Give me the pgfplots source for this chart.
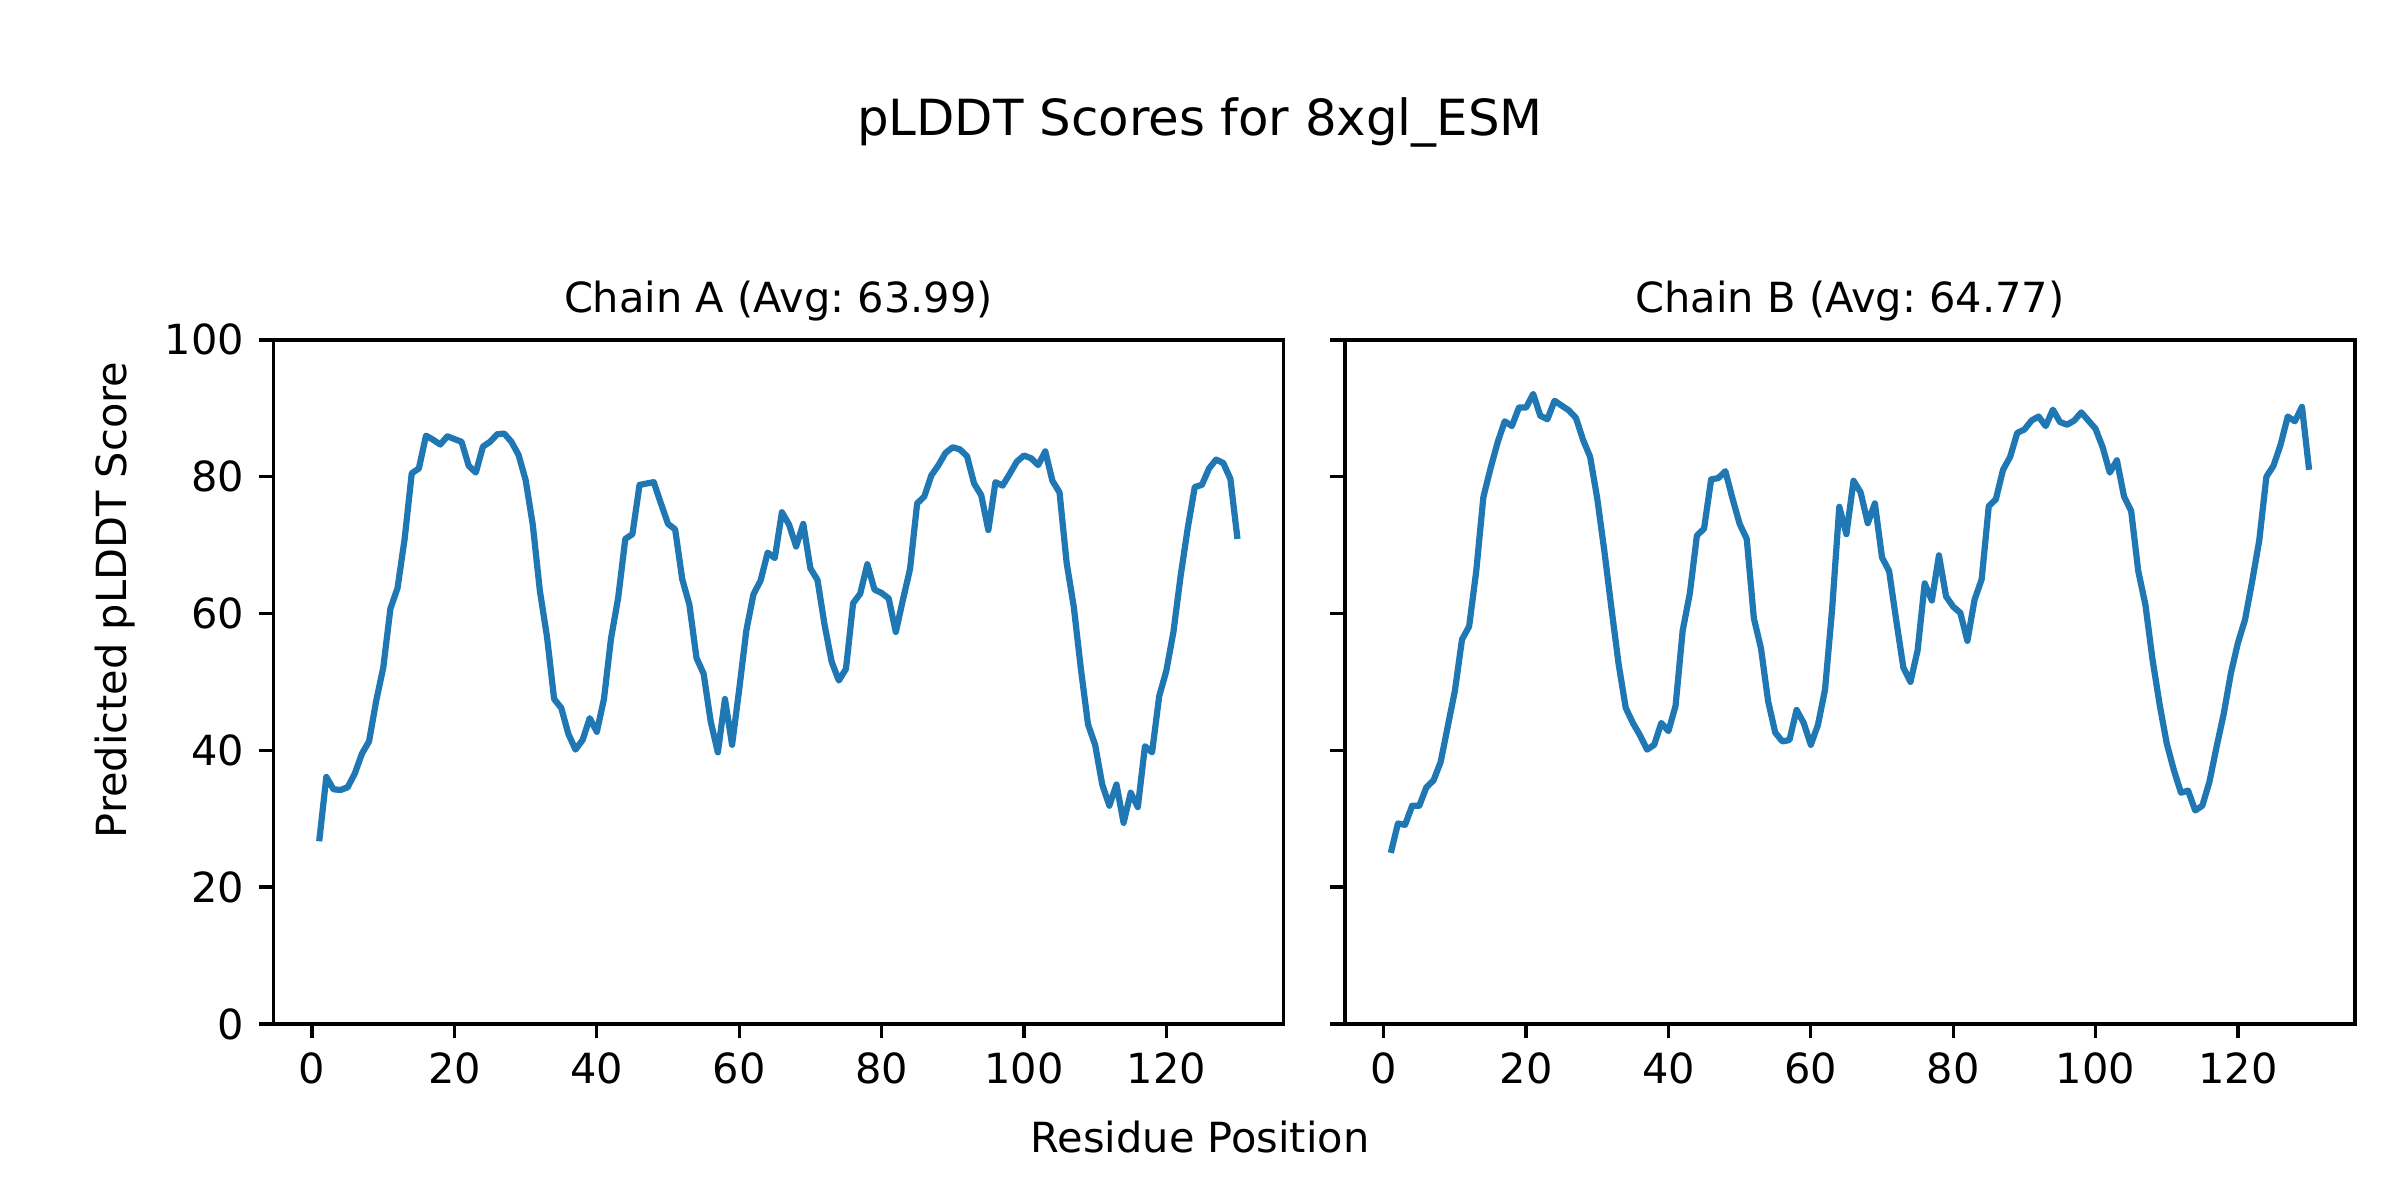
\documentclass[border=0pt]{standalone}
\usepackage{fontspec}
\setmainfont{DejaVu Sans}
\usepackage{pgfplots}
\usepackage{pgfplotstable}
\pgfplotsset{compat=1.18}
\definecolor{mplblue}{HTML}{1F77B4}
\frenchspacing

% per-residue pLDDT, chain A
\pgfplotstableread{
res score
1 26.7
2 36.1
3 34.3
4 34.2
5 34.6
6 36.6
7 39.5
8 41.3
9 47.2
10 52.1
11 60.7
12 63.7
13 70.9
14 80.5
15 81.2
16 86.0
17 85.4
18 84.7
19 85.9
20 85.5
21 85.1
22 81.6
23 80.6
24 84.4
25 85.1
26 86.2
27 86.3
28 85.1
29 83.2
30 79.5
31 73.0
32 63.3
33 56.6
34 47.5
35 46.2
36 42.4
37 40.1
38 41.5
39 44.7
40 42.7
41 47.5
42 56.4
43 62.3
44 70.9
45 71.6
46 78.8
47 79.0
48 79.2
49 76.1
50 73.1
51 72.3
52 65.0
53 61.3
54 53.5
55 51.2
56 44.2
57 39.7
58 47.5
59 40.8
60 48.9
61 57.5
62 62.8
63 64.8
64 68.9
65 68.1
66 74.8
67 73.0
68 69.8
69 73.1
70 66.6
71 64.9
72 58.3
73 52.9
74 50.2
75 51.9
76 61.5
77 62.9
78 67.2
79 63.5
80 63.0
81 62.2
82 57.3
83 62.0
84 66.5
85 76.1
86 77.1
87 80.2
88 81.7
89 83.5
90 84.3
91 84.0
92 83.0
93 79.0
94 77.3
95 72.2
96 79.2
97 78.7
98 80.4
99 82.2
100 83.1
101 82.7
102 81.7
103 83.7
104 79.4
105 77.7
106 67.4
107 61.0
108 51.9
109 43.8
110 40.8
111 35.0
112 31.9
113 35.0
114 29.4
115 33.8
116 31.7
117 40.6
118 39.7
119 47.9
120 51.6
121 57.3
122 65.4
123 72.4
124 78.5
125 78.8
126 81.2
127 82.5
128 82.0
129 79.7
130 70.9
}\chainA

% per-residue pLDDT, chain B
\pgfplotstableread{
res score
1 25.0
2 29.3
3 29.1
4 31.9
5 31.9
6 34.6
7 35.6
8 38.3
9 43.5
10 48.7
11 56.2
12 58.1
13 66.2
14 77.0
15 81.2
16 85.0
17 88.1
18 87.4
19 90.1
20 90.1
21 92.1
22 88.9
23 88.4
24 91.1
25 90.4
26 89.7
27 88.6
28 85.4
29 82.9
30 76.8
31 69.1
32 60.7
33 52.6
34 46.2
35 44.0
36 42.2
37 40.1
38 40.8
39 44.0
40 42.8
41 46.5
42 57.5
43 62.9
44 71.4
45 72.4
46 79.6
47 79.8
48 80.8
49 76.8
50 73.1
51 70.9
52 59.3
53 54.9
54 47.2
55 42.6
56 41.3
57 41.5
58 45.9
59 44.0
60 40.8
61 43.7
62 48.9
63 60.7
64 75.6
65 71.6
66 79.4
67 77.7
68 73.2
69 76.1
70 68.2
71 66.2
72 59.0
73 52.1
74 50.0
75 54.6
76 64.4
77 61.9
78 68.5
79 62.5
80 61.0
81 60.1
82 56.0
83 62.0
84 65.0
85 75.7
86 76.7
87 81.0
88 82.9
89 86.4
90 86.9
91 88.2
92 88.8
93 87.4
94 89.8
95 88.0
96 87.6
97 88.2
98 89.4
99 88.2
100 87.0
101 84.3
102 80.6
103 82.4
104 77.1
105 75.0
106 66.2
107 61.3
108 53.3
109 46.7
110 41.0
111 37.1
112 33.8
113 34.1
114 31.2
115 31.9
116 35.4
117 40.5
118 45.3
119 51.2
120 55.7
121 59.1
122 64.7
123 70.7
124 80.0
125 81.6
126 84.7
127 88.8
128 88.1
129 90.2
130 81.0
}\chainB

\pgfplotsset{
  plddt/.style={
    scale only axis,
    width=3.367in, height=2.28in,
    xmin=-5.45, xmax=136.45,
    ymin=0, ymax=100,
    xtick={0,20,...,120},
    ytick={0,20,...,100},
    xtick pos=lower, ytick pos=left,
    tick align=outside,
    major tick length=3.5pt,
    every tick/.style={black, line width=0.8pt},
    axis line style={line width=0.8pt},
    tick label style={font=\fontsize{10}{12}\selectfont},
    /pgf/number format/assume math mode=true,
    title style={font=\fontsize{10}{12}\selectfont, at={(0.5,1)}, anchor=base, yshift=0.5pt},
  },
  chainline/.style={mplblue, line width=1.5pt, line join=round},
}

\begin{document}
\begin{tikzpicture}
\path[use as bounding box] (0,0) rectangle (8in,4in);

\begin{axis}[plddt, at={(0.911in,0.587in)}, anchor=south west,
  title={Chain A (Avg: 63.99)}]
\addplot[chainline] table[x=res, y=score] {\chainA};
\end{axis}

\begin{axis}[plddt, at={(4.483in,0.587in)}, anchor=south west,
  yticklabels={},
  title={Chain B (Avg: 64.77)}]
\addplot[chainline] table[x=res, y=score] {\chainB};
\end{axis}

\node[font=\fontsize{12}{14}\selectfont, anchor=base] at (4in,3.547in) {pLDDT Scores for 8xgl\_ESM};
\node[font=\fontsize{10}{12}\selectfont, anchor=base] at (4in,0.16in) {Residue Position};
\node[font=\fontsize{10}{12}\selectfont, anchor=base, rotate=90] at (0.42in,2in) {Predicted pLDDT Score};
\end{tikzpicture}
\end{document}
